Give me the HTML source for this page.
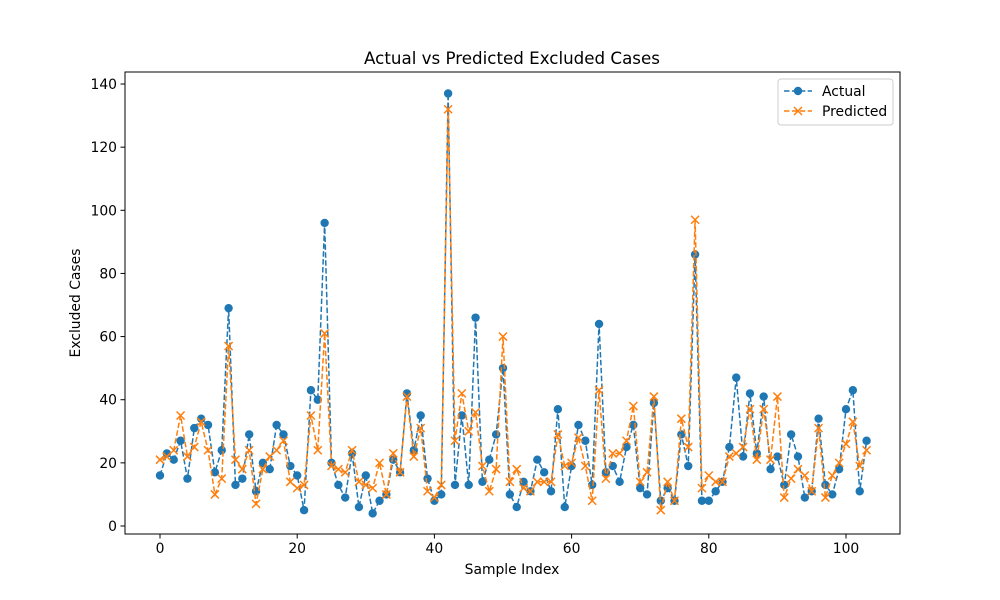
<!DOCTYPE html>
<html><head><meta charset="utf-8"><style>
body{margin:0;background:#fff}
svg{display:block;font-family:"DejaVu Sans","Liberation Sans",sans-serif}
</style></head><body>
<svg id="chart" width="1000" height="600">
<rect x="0" y="0" width="1000" height="600" fill="#fff"/>
<text x="512" y="64" font-size="16.7" text-anchor="middle">Actual vs Predicted Excluded Cases</text>
<g id="grid"></g>
<g id="series"></g>
<rect x="125" y="72" width="775" height="462" fill="none" stroke="#000" stroke-width="1"/>
<g id="axes"></g>
<text x="512" y="574" font-size="13.9" text-anchor="middle">Sample Index</text>
<text transform="translate(80,303) rotate(-90)" font-size="13.9" text-anchor="middle">Excluded Cases</text>
<g>
<rect x="778" y="79" width="115" height="46" rx="3" fill="#fff" fill-opacity="0.8" stroke="#ccc"/>
<g>
<line x1="784" y1="91" x2="812" y2="91" stroke="#1f77b4" stroke-width="1.5" stroke-dasharray="5.5,2.4"/>
<circle cx="798" cy="91" r="4.2" fill="#1f77b4"/>
<text x="822" y="96" font-size="13.9">Actual</text></g>
<g>
<line x1="784" y1="111" x2="812" y2="111" stroke="#ff7f0e" stroke-width="1.5" stroke-dasharray="5.5,2.4"/>
<path d="M794,107 l8,8 M802,107 l-8,8" stroke="#ff7f0e" stroke-width="1.5"/>
<text x="822" y="116" font-size="13.9">Predicted</text></g>
</g>
</svg>
<script>
const actual=[16,23,21,27,15,31,34,32,17,24,69,13,15,29,11,20,18,32,29,19,16,5,43,40,96,20,13,9,23,6,16,4,8,10,21,17,42,24,35,15,8,10,137,13,35,13,66,14,21,29,50,10,6,14,11,21,17,11,37,6,19,32,27,13,64,17,19,14,25,32,12,10,39,8,12,8,29,19,86,8,8,11,14,25,47,22,42,23,41,18,22,13,29,22,9,11,34,13,10,18,37,43,11,27];
const predicted=[21,22,24,35,22,25,33,24,10,15,57,21,18,24,7,18,22,24,27,14,12,13,35,24,61,19,18,17,24,14,13,12,20,10,23,17,41,22,31,11,9,13,132,27,42,30,36,19,11,18,60,14,18,12,11,14,14,14,29,19,20,28,19,8,43,15,23,23,27,38,14,17,41,5,14,8,34,25,97,12,16,14,14,22,23,25,37,21,37,21,41,9,15,18,16,11,31,9,16,20,26,33,19,24];
const xTicks=[0,20,40,60,80,100];
const yTicks=[0,20,40,60,80,100,120,140];
const NS="http://www.w3.org/2000/svg";
function X(v){return 160+v*6.86;}
function Y(v){return 526-v*3.157;}
function mk(tag,attrs,parent){const e=document.createElementNS(NS,tag);for(const k in attrs)e.setAttribute(k,attrs[k]);parent.appendChild(e);return e;}
const axes=document.getElementById('axes');
xTicks.forEach(t=>{
  const l=mk('line',{x1:X(t),x2:X(t),y1:534,y2:538.5,stroke:'#000'},axes);
  
  
  const tx=mk('text',{x:X(t),y:553,'font-size':13.9,'text-anchor':'middle'},axes);
  tx.textContent=t;
  
  
});
yTicks.forEach(t=>{
  const l=mk('line',{x1:120.5,x2:125,y1:Y(t),y2:Y(t),stroke:'#000'},axes);
  
  
  const tx=mk('text',{x:117,y:Y(t)+5,'font-size':13.9,'text-anchor':'end'},axes);
  tx.textContent=t;
  
  
});
const g=document.getElementById('series');
function drawLine(data,color,name){
  const p=mk('polyline',{points:data.map((v,i)=>X(i)+','+Y(v)).join(' '),fill:'none',stroke:color,'stroke-width':1.5,'stroke-dasharray':'5.5,2.4'},g);
  
  
}
drawLine(actual,'#1f77b4','actual');
actual.forEach((v,i)=>{
  const c=mk('circle',{cx:X(i),cy:Y(v),r:4.2,fill:'#1f77b4'},g);
  
  
});
drawLine(predicted,'#ff7f0e','predicted');
predicted.forEach((v,i)=>{
  const x=X(i),y=Y(v);
  const p=mk('path',{d:`M${x-4},${y-4}L${x+4},${y+4}M${x+4},${y-4}L${x-4},${y+4}`,stroke:'#ff7f0e','stroke-width':1.5},g);
  
  
});
</script>
</body></html>
